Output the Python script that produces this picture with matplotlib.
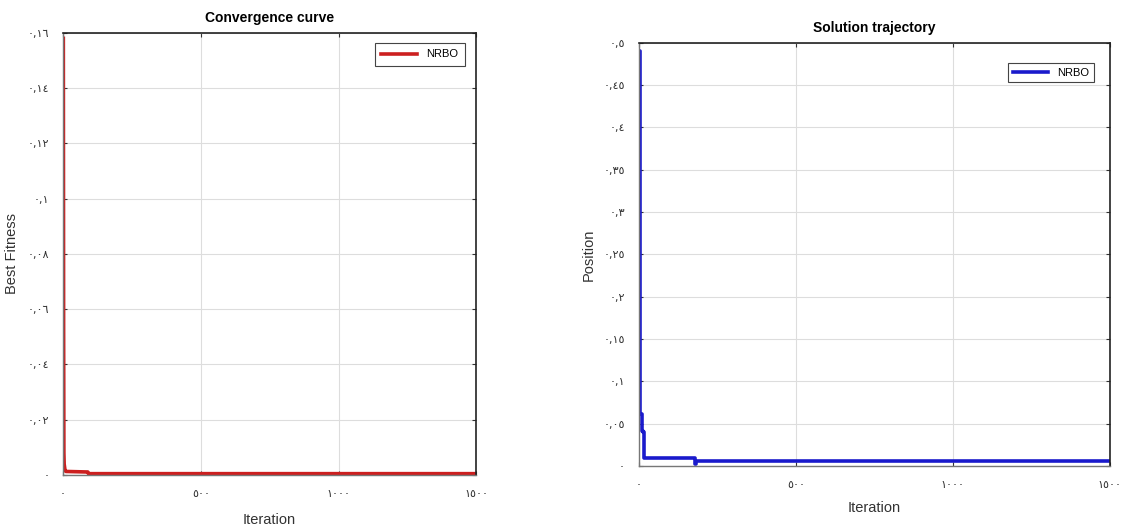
import numpy as np
import matplotlib
matplotlib.use("Agg")
import matplotlib.pyplot as plt
import matplotlib.ticker as mticker

plt.rcParams['font.family'] = ['Liberation Sans', 'DejaVu Sans']

# Convergence curve (best fitness per iteration)
conv_iter = [1, 2, 3, 4, 7, 10, 90, 92, 1500]
conv_fit = [0.158, 0.053, 0.008, 0.004, 0.0018, 0.0013, 0.0011, 0.0005, 0.0005]

# Solution trajectory (position per iteration)
pos_iter = [1, 4, 8, 10, 14, 16, 20, 175, 177, 182, 1500]
pos_val = [0.49, 0.062, 0.055, 0.042, 0.040, 0.0095, 0.0095, 0.0095, 0.002, 0.006, 0.006]

conv_yticks = [0, 0.02, 0.04, 0.06, 0.08, 0.1, 0.12, 0.14, 0.16]
conv_ylabels = ['٠', '٠,٠٢', '٠,٠٤', '٠,٠٦', '٠,٠٨', '٠,١', '٠,١٢', '٠,١٤', '٠,١٦']
pos_yticks = [0, 0.05, 0.1, 0.15, 0.2, 0.25, 0.3, 0.35, 0.4, 0.45, 0.5]
pos_ylabels = ['٠', '٠,٠٥', '٠,١', '٠,١٥', '٠,٢', '٠,٢٥', '٠,٣', '٠,٣٥', '٠,٤', '٠,٤٥', '٠,٥']
xticks = [0, 500, 1000, 1500]
xlabels = ['٠', '٥٠٠', '١٠٠٠', '١٥٠٠']


def style_axes(ax, yticks, ylabels, ymax):
    """
    MATLAB-like box, grid and tick look
    """
    ax.set_xlim(0, 1500)
    ax.set_ylim(0, ymax)
    ax.set_xticks(xticks)
    ax.set_xticklabels(xlabels, family=['DejaVu Sans'])
    ax.set_yticks(yticks)
    ax.set_yticklabels(ylabels, family=['DejaVu Sans'])
    ax.tick_params(direction='in', length=3, labelsize=8, labelcolor='#333333',
                   top=True, right=True, pad=10, color='#333333')
    ax.grid(True, color='#dddddd', linewidth=0.8)
    for side in ['top', 'right']:
        ax.spines[side].set_color('#222222')
        ax.spines[side].set_linewidth(1.2)
    for side in ['left', 'bottom']:
        ax.spines[side].set_color('#777777')
        ax.spines[side].set_linewidth(1.0)


def main():
    fig = plt.figure(figsize=(11.26, 5.29), dpi=100)

    ax1 = fig.add_axes([0.056, 0.102, 0.367, 0.836])
    ax1.plot(conv_iter, conv_fit, color='#cc1f1f', linewidth=2.6, label='NRBO')
    style_axes(ax1, conv_yticks, conv_ylabels, 0.16)
    ax1.set_title('Convergence curve', fontsize=10, fontweight='bold', pad=8)
    ax1.set_xlabel('Iteration', fontsize=10.5, color='#333333', labelpad=10)
    ax1.set_ylabel('Best Fitness', fontsize=10.5, color='#333333', labelpad=6)
    leg1 = ax1.legend(loc='upper right', bbox_to_anchor=(0.985, 0.99), fontsize=8,
                      fancybox=False, edgecolor='#444444', handlelength=3.2,
                      borderpad=0.6, framealpha=1)
    leg1.get_frame().set_linewidth(0.8)

    ax2 = fig.add_axes([0.5675, 0.119, 0.418, 0.80])
    ax2.plot(pos_iter, pos_val, color='#1a1acc', linewidth=2.6, label='NRBO',
             drawstyle='steps-post')
    style_axes(ax2, pos_yticks, pos_ylabels, 0.5)
    ax2.set_title('Solution trajectory', fontsize=10, fontweight='bold', pad=8)
    ax2.set_xlabel('Iteration', fontsize=10.5, color='#333333', labelpad=8)
    ax2.set_ylabel('Position', fontsize=10.5, color='#333333', labelpad=6)
    leg2 = ax2.legend(loc='upper right', bbox_to_anchor=(0.978, 0.965), fontsize=8,
                      fancybox=False, edgecolor='#444444', handlelength=3.2,
                      borderpad=0.4, framealpha=1)
    leg2.get_frame().set_linewidth(0.8)

    fig.savefig('out.png', dpi=100)


if __name__ == "__main__":
    main()
